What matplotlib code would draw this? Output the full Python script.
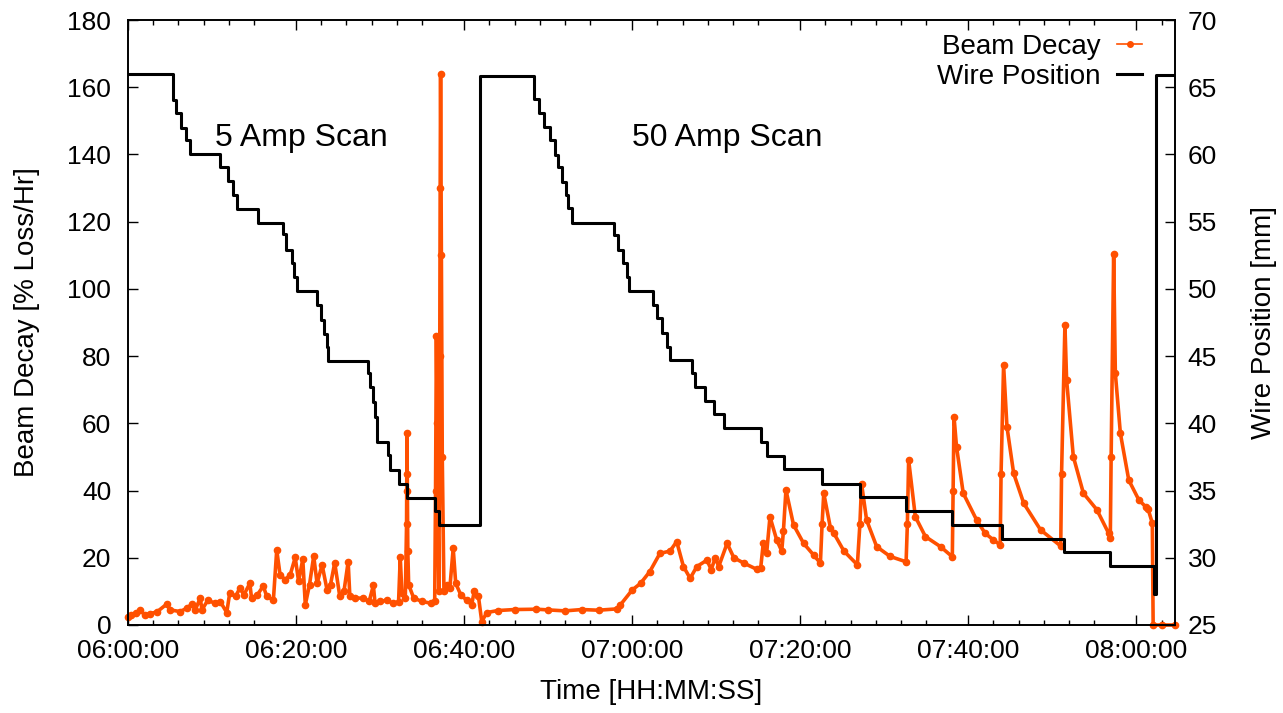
import matplotlib
matplotlib.use('Agg')
import matplotlib.pyplot as plt

# times are minutes after 06:00:00
xtick_pos = [0, 20, 40, 60, 80, 100, 120]
xtick_labels = ['06:00:00', '06:20:00', '06:40:00', '07:00:00',
                '07:20:00', '07:40:00', '08:00:00']
t_end = 124.6

# beam decay [% loss/hr]
beam_t = [0.0, 0.3, 1.0, 1.4, 2.0, 2.6, 3.5, 4.6, 5.0, 6.2, 7.0, 7.6, 8.0, 8.6, 8.8,
          9.5, 10.3, 11.0, 11.75, 12.1, 12.8, 13.3, 13.8, 14.5, 14.7, 15.4, 16.1,
          16.5, 17.3, 17.7, 18.1, 18.7, 19.3, 19.9, 20.3, 20.8, 21.1, 21.6, 22.1,
          22.5, 23.1, 23.7, 24.1, 24.6, 25.2, 25.7, 26.2, 26.4, 27.0, 28.0, 28.7,
          29.2, 29.4, 30.0, 30.8, 31.5, 32.2, 32.4, 32.6, 33.0, 33.15, 33.18, 33.2,
          33.25, 33.3, 33.4, 34.0, 35.0, 36.0, 36.5, 36.6, 36.7, 36.8, 36.9, 37.0,
          37.1, 37.15, 37.2, 37.3, 37.4, 37.6, 38.0, 38.3, 38.7, 39.0, 39.6, 40.3,
          40.9, 41.2, 41.7, 42.1, 42.7, 44.0, 46.0, 48.6, 50.0, 52.0, 54.0, 56.0,
          58.2, 58.6, 60.0, 61.0, 62.1, 63.3, 64.5, 65.3, 66.1, 66.9, 67.7, 68.9,
          69.4, 69.9, 70.3, 71.3, 72.1, 73.3, 74.8, 75.3, 75.6, 76.0, 76.4, 77.2,
          77.8, 78.0, 78.3, 79.2, 80.4, 81.6, 82.4, 82.6, 82.8, 83.6, 84.0, 85.2,
          86.8, 87.1, 87.3, 87.9, 89.1, 90.7, 92.6, 92.75, 92.9, 93.7, 94.9, 96.7,
          98.1, 98.2, 98.3, 98.6, 99.4, 101.0, 102.0, 103.0, 103.8, 103.9, 104.2,
          104.6, 105.4, 106.6, 108.6, 111.0, 111.1, 111.5, 111.7, 112.5, 113.7,
          115.3, 116.7, 116.9, 117.0, 117.3, 117.5, 118.1, 119.1, 120.3, 121.1,
          121.4, 121.9, 122.0, 123.0, 124.6]
beam_decay = [2.5, 3.0, 3.5, 4.5, 3.0, 3.3, 4.0, 6.2, 4.5, 4.0, 5.0, 6.2, 4.5, 8.0, 4.5,
              7.4, 6.5, 6.9, 3.7, 9.4, 8.5, 10.9, 9.0, 12.4, 8.0, 9.0, 11.6,
              8.6, 7.4, 22.3, 14.9, 13.5, 14.9, 20.1, 13.0, 19.6, 6.0, 12.0, 20.5,
              12.4, 17.9, 10.3, 12.0, 18.5, 8.6, 10.0, 18.8, 8.6, 8.0, 8.0, 7.0,
              11.8, 6.5, 7.0, 7.4, 6.5, 6.9, 20.1, 9.4, 8.0, 30.0, 45.0, 57.0,
              40.0, 22.0, 12.0, 8.0, 7.0, 6.5, 7.0, 40.0, 86.0, 60.0, 30.0, 10.0,
              80.0, 130.0, 164.0, 110.0, 50.0, 10.0, 12.0, 11.0, 22.8, 12.4, 9.0, 7.4,
              6.0, 10.0, 8.6, 1.0, 3.7, 4.3, 4.6, 4.7, 4.5, 4.2, 4.6, 4.4,
              4.8, 6.0, 10.4, 12.4, 15.9, 21.3, 22.0, 24.8, 17.4, 13.9, 17.4, 19.3,
              16.5, 20.0, 17.4, 24.3, 20.0, 18.4, 16.6, 17.1, 24.3, 21.3, 32.2, 25.3,
              22.0, 28.0, 40.2, 29.8, 24.3, 20.8, 18.4, 30.0, 39.2, 28.8, 27.3, 22.0,
              17.9, 30.0, 42.0, 31.2, 23.3, 20.4, 18.8, 30.0, 49.1, 32.2, 26.3, 23.3,
              20.3, 40.0, 62.0, 53.0, 39.2, 31.2, 27.3, 25.3, 23.8, 45.0, 77.4,
              59.0, 45.1, 36.2, 28.3, 23.5, 45.0, 89.3, 72.9, 50.1, 39.2,
              34.3, 27.3, 25.8, 50.0, 110.4, 74.9, 57.0, 43.1, 37.2, 35.2,
              34.5, 30.3, 0.0, 0.0, 0.0]

# wire position [mm], stepwise
wire_t = [0, 5.4, 5.7, 6.27, 6.9, 7.4, 11.0, 11.9, 12.5, 13.0, 15.5, 18.5, 18.8,
          19.5, 19.8, 20.1, 22.54, 22.94, 23.33, 23.65, 23.85, 28.54, 28.81, 29.13,
          29.4, 29.68, 30.99, 31.19, 32.3, 33.18, 36.55, 37.06, 41.9, 48.33, 48.93,
          49.52, 50.24, 50.83, 51.23, 51.63, 52.1, 52.42, 52.82, 57.86, 58.37, 58.96,
          59.37, 59.68, 62.46, 62.94, 63.54, 64.13, 64.52, 67.11, 67.5, 68.69, 69.76,
          70.87, 75.32, 76.1, 78.1, 82.58, 87.14, 92.62, 98.06, 104.01, 111.35,
          116.9, 122.06, 122.35, 124.6]
wire_mm = [66.0, 64.05, 63.1, 62.0, 61.1, 60.0, 59.05, 58.0, 57.0, 55.93, 54.93, 54.1,
           52.9, 51.9, 50.9, 49.87, 48.8, 47.7, 46.65, 45.7, 44.67, 43.73, 42.73, 41.6,
           40.5, 38.64, 37.65, 36.53, 35.49, 34.47, 33.5, 32.44, 65.85, 64.1, 63.1,
           62.03, 61.09, 59.97, 59.05, 57.98, 56.99, 56.0, 54.9, 54.02, 52.9, 51.9,
           50.9, 49.87, 48.81, 47.8, 46.7, 45.7, 44.7, 43.73, 42.73, 41.68, 40.68,
           39.62, 38.62, 37.56, 36.58, 35.51, 34.5, 33.48, 32.44, 31.42, 30.43,
           29.41, 27.3, 65.9, 65.9]

plt.rcParams['font.family'] = ['Liberation Sans', 'DejaVu Sans']

fig = plt.figure(figsize=(12.83, 7.13), dpi=100)
ax = fig.add_axes([128/1283, 88/713, 1047/1283, 605/713])
ax2 = ax.twinx()

l1, = ax.plot(beam_t, beam_decay, color='#ff5000', lw=2.6, marker='o', ms=4.5,
              label='Beam Decay', clip_on=False)
l2, = ax2.plot(wire_t, wire_mm, color='black', lw=2.2, drawstyle='steps-post',
               label='Wire Position')

ax.set_xlim(0, t_end)
ax.set_ylim(0, 180)
ax2.set_ylim(25, 70)

ax.set_xticks(xtick_pos)
ax.set_xticklabels(xtick_labels)
minor = [m + k for m in xtick_pos for k in (3, 6, 9, 12, 15) if m + k < t_end]
ax.set_xticks(minor, minor=True)
ax.set_yticks(range(0, 181, 20))
ax2.set_yticks(range(25, 71, 5))

ax.tick_params(axis='x', which='major', direction='in', top=True, length=7, width=1,
               labelsize=19, pad=10)
ax.tick_params(axis='x', which='minor', direction='in', top=True, length=3.5, width=1)
ax.tick_params(axis='y', direction='in', right=False, length=7, width=1,
               labelsize=19, pad=12)
ax2.tick_params(axis='y', direction='in', length=7, width=1, labelsize=19, pad=9)

for a in (ax, ax2):
    for s in a.spines.values():
        s.set_linewidth(1.2)

ax.set_xlabel('Time [HH:MM:SS]', fontsize=20)
ax.set_ylabel('Beam Decay [% Loss/Hr]', fontsize=20)
ax2.set_ylabel('Wire Position [mm]', fontsize=20)
ax.xaxis.set_label_coords(0.5, -0.09)
ax.yaxis.set_label_coords(-0.084, 0.5)
ax2.yaxis.set_label_coords(1.073, 0.5)

ax.text(10.4, 145, '5 Amp Scan', fontsize=23, va='center')
ax.text(60.0, 145, '50 Amp Scan', fontsize=23, va='center')

leg = ax2.legend([l1, l2], ['Beam Decay', 'Wire Position'], loc='upper right',
                 bbox_to_anchor=(0.9685, 0.977), frameon=False, markerfirst=False,
                 fontsize=20, handlelength=0.9, handletextpad=0.6, labelspacing=0.15,
                 borderpad=0, borderaxespad=0)
leg.get_lines()[0].set_linewidth(1.2)
leg.get_lines()[0].set_markersize(4)

fig.savefig('out.png', dpi=100)
